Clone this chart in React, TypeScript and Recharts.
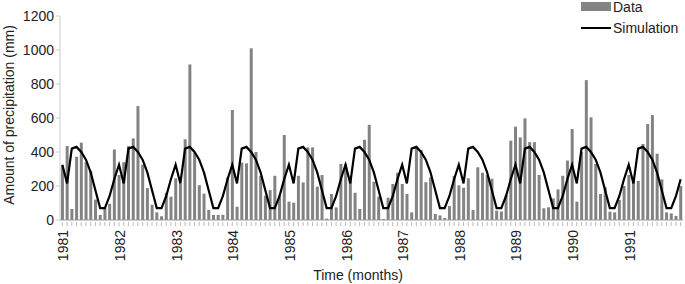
import { ComposedChart, Bar, Line, XAxis, YAxis } from 'recharts';

const years = ['1981', '1982', '1983', '1984', '1985', '1986', '1987', '1988', '1989', '1990', '1991'];

// monthly observed precipitation (mm), one row per year, Jan..Dec
const precipitation = [
  [320, 435, 65, 372, 455, 340, 290, 120, 30, 70, 95, 415],
  [265, 340, 435, 480, 670, 325, 188, 90, 45, 22, 160, 137],
  [245, 215, 475, 915, 395, 205, 155, 59, 30, 30, 30, 250],
  [647, 78, 338, 333, 1010, 400, 260, 143, 176, 260, 140, 500],
  [108, 102, 260, 221, 427, 427, 196, 265, 8, 153, 74, 330],
  [330, 255, 160, 65, 472, 560, 225, 137, 6, 131, 212, 278],
  [212, 153, 45, 425, 412, 222, 250, 35, 27, 12, 82, 259],
  [204, 190, 245, 59, 310, 278, 265, 243, 55, 50, 147, 467],
  [549, 486, 598, 458, 458, 265, 69, 75, 127, 180, 260, 350],
  [535, 108, 400, 823, 604, 330, 153, 192, 49, 45, 118, 200],
  [265, 235, 230, 447, 565, 617, 390, 239, 45, 39, 24, 200],
];

// simulated precipitation (mm), one row per year
const simulation = [
  [325, 215, 420, 430, 400, 355, 280, 175, 70, 70, 140, 240],
  [325, 215, 420, 430, 400, 355, 280, 175, 70, 70, 140, 240],
  [325, 215, 420, 430, 400, 355, 280, 175, 70, 70, 140, 240],
  [325, 215, 420, 430, 400, 355, 280, 175, 70, 70, 140, 240],
  [325, 215, 420, 430, 400, 355, 280, 175, 70, 70, 140, 240],
  [325, 215, 420, 430, 400, 355, 280, 175, 70, 70, 140, 240],
  [325, 215, 420, 430, 400, 355, 280, 175, 70, 70, 140, 240],
  [325, 215, 420, 430, 400, 355, 280, 175, 70, 70, 140, 240],
  [325, 215, 420, 430, 400, 355, 280, 175, 70, 70, 140, 240],
  [325, 215, 420, 430, 400, 355, 280, 175, 70, 70, 140, 240],
  [325, 215, 420, 430, 400, 355, 280, 175, 70, 70, 140, 240],
];

const yTicks = [0, 200, 400, 600, 800, 1000, 1200];

const data = precipitation.flatMap((row, y) =>
  row.map((v, m) => ({
    month: `${years[y]}-${m + 1}`,
    data: v,
    simulation: simulation[y][m],
  }))
);

const font = 'Arial, "Liberation Sans", Helvetica, sans-serif';

function MonthTick(props: any) {
  const { x, y, payload } = props;
  const [year, m] = String(payload.value).split('-');
  return (
    <g>
      <line x1={x} y1={y} x2={x} y2={y + 4} stroke="#bbb" />
      {m === '1' && (
        <text
          transform={`translate(${x + 6},${y + 8}) rotate(-90)`}
          textAnchor="end"
          fontSize={14}
          fontFamily={font}
          fill="#222"
        >
          {year}
        </text>
      )}
    </g>
  );
}

export default function App() {
  return (
    <div style={{ position: 'absolute', left: 0, top: 0, width: 685, height: 284, fontFamily: font, color: '#222' }}>
      <ComposedChart
        width={685}
        height={284}
        data={data}
        margin={{ top: 16, right: 2, bottom: 24, left: 15 }}
        barCategoryGap="20%"
      >
        <XAxis
          dataKey="month"
          interval={0}
          height={40}
          tickLine={false}
          tickSize={0}
          tick={<MonthTick />}
          axisLine={{ stroke: '#999' }}
        />
        <YAxis
          width={45}
          domain={[0, 1200]}
          ticks={yTicks}
          interval={0}
          tickSize={4}
          tickLine={{ stroke: '#ccc' }}
          axisLine={{ stroke: '#ccc' }}
          tick={{ fontSize: 14, fill: '#222', fontFamily: font }}
        />
        <Bar dataKey="data" fill="#838383" isAnimationActive={false} />
        <Line
          dataKey="simulation"
          type="linear"
          stroke="#000"
          strokeWidth={2.2}
          dot={false}
          isAnimationActive={false}
        />
      </ComposedChart>

      <div
        style={{
          position: 'absolute', left: 9, top: 115, fontSize: 14, whiteSpace: 'nowrap',
          transform: 'translate(-50%, -50%) rotate(-90deg)',
        }}
      >
        Amount of precipitation (mm)
      </div>
      <div
        style={{
          position: 'absolute', left: 358, top: 275, fontSize: 14, whiteSpace: 'nowrap',
          transform: 'translate(-50%, -50%)',
        }}
      >
        Time (months)
      </div>

      <div style={{ position: 'absolute', left: 581, top: 2, width: 30, height: 9, background: '#838383' }} />
      <div style={{ position: 'absolute', left: 613, top: 0, fontSize: 14, lineHeight: '14px' }}>Data</div>
      <div style={{ position: 'absolute', left: 581, top: 27, width: 30, height: 2, background: '#000' }} />
      <div style={{ position: 'absolute', left: 613, top: 21, fontSize: 14, lineHeight: '14px' }}>Simulation</div>
    </div>
  );
}
